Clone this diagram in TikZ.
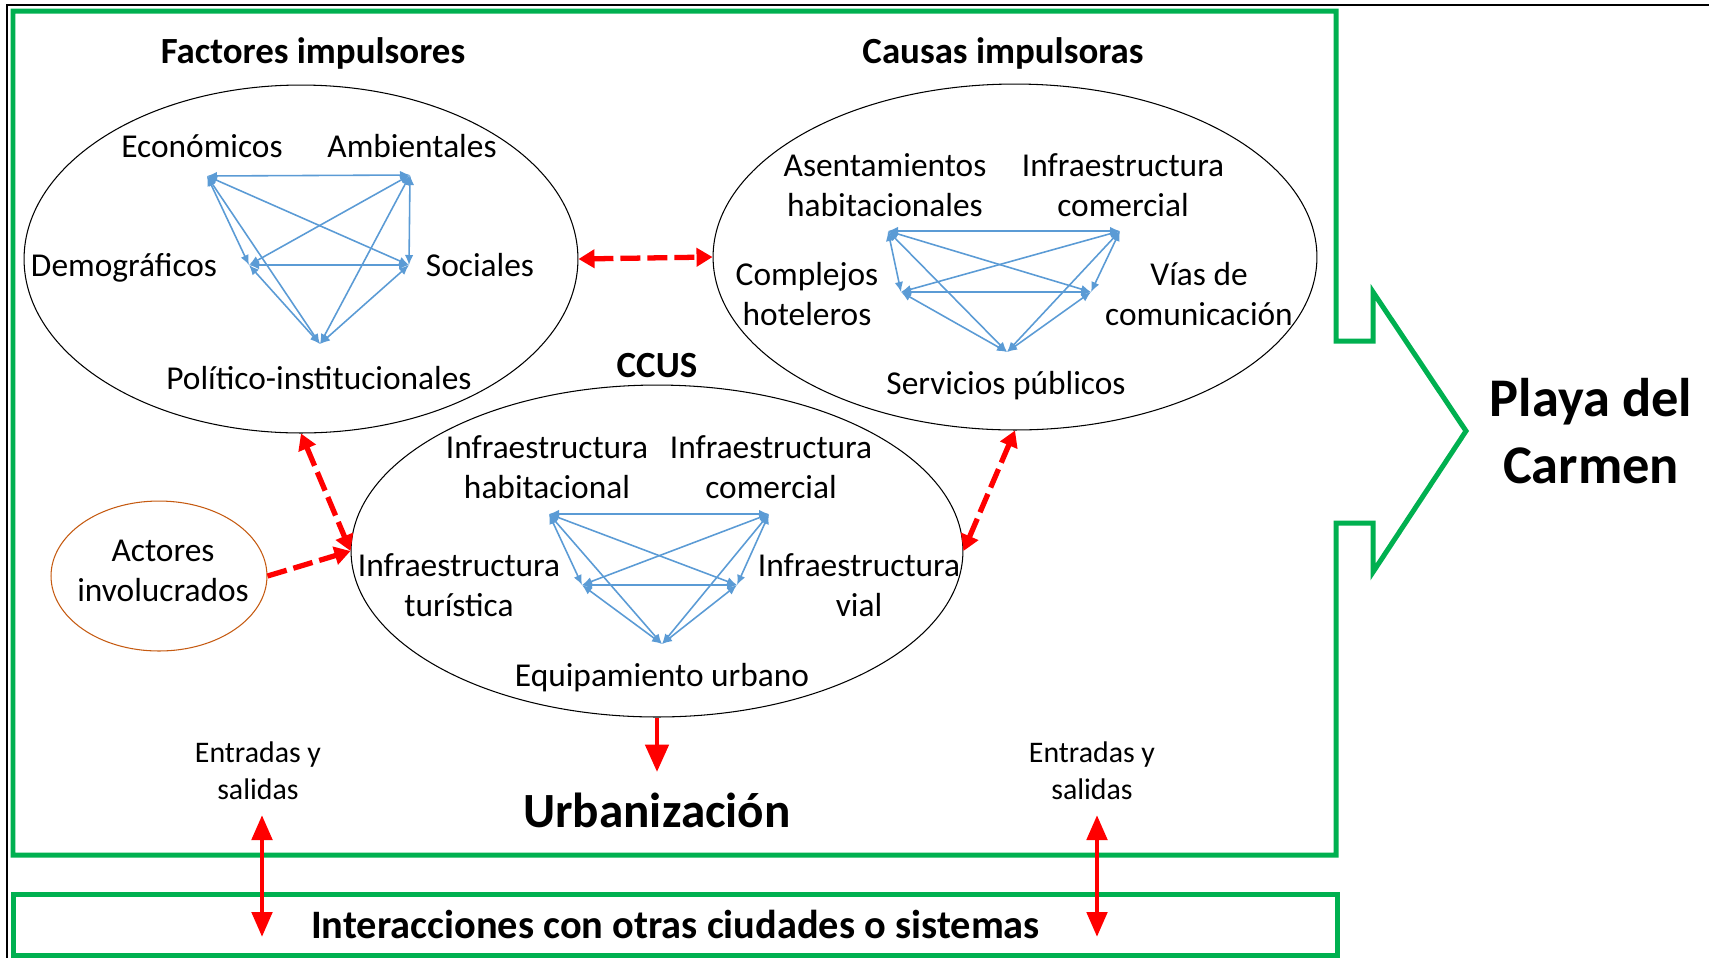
\documentclass[tikz,border=0pt]{standalone}
\usepackage{fontspec}
\setmainfont{Carlito}
\usetikzlibrary{arrows.meta}
\usetikzlibrary{calc, shapes.geometric}

\definecolor{verde}{RGB}{0,176,80}
\definecolor{azul}{RGB}{91,155,213}
\definecolor{cafe}{RGB}{197,90,17}

\tikzset{
  elipse/.style={draw, ellipse, line width=0.6pt, inner sep=0pt},
  etiq/.style={font=\fontsize{19}{23}\selectfont, align=center, inner sep=0pt},
  titulo/.style={font=\fontsize{21}{25}\selectfont\bfseries, inner sep=0pt},
  enlace/.style={azul, line width=0.9pt, arrows={Latex[length=2mm,width=1.7mm]-Latex[length=2mm,width=1.7mm]}},
  flujo/.style={red, line width=3pt, dash pattern=on 0.4cm off 0.14cm},
  salida/.style={red, line width=2.8pt}
}

\begin{document}
\begin{tikzpicture}[x=0.02cm, y=-0.02cm]
          \useasboundingbox (0,0) rectangle (1709,958);
          \draw [line width=0.04cm] (1709,5) -- (7,5) -- (7,958); % frame

          % green system boundary with the arrow to the city
          \draw [verde, line width=0.1cm] (13,11) -- (1336,11) -- (1336,341) -- (1373,341) -- (1373,292)
            -- (1466,431) -- (1373,572) -- (1373,523) -- (1336,523) -- (1336,855) -- (13,855) -- cycle;
          \node [draw=verde, line width=0.1cm, minimum width=26.5cm, minimum height=1.22cm,
            font=\fontsize{23}{27}\selectfont\bfseries] (inter) at (675.5,924.5) {Interacciones con otras ciudades o sistemas};

          \node [font=\fontsize{31}{38}\selectfont\bfseries, align=center] (playa) at (1591,431) {Playa del\\Carmen};

          % the four ellipses
          \node [elipse, minimum width=11.08cm, minimum height=6.96cm] (fac) at (301,259) {};
          \node [elipse, minimum width=12.08cm, minimum height=6.92cm] (cau) at (1015,257) {};
          \node [elipse, minimum width=12.24cm, minimum height=6.64cm] (ccus) at (657,551) {};
          \node [elipse, draw=cafe, minimum width=4.32cm, minimum height=3cm] (act) at (159,576) {};

          \node [titulo] (tfac) at (313,53) {Factores impulsores};
          \node [titulo] (tcau) at (1003,53) {Causas impulsoras};
          \node [titulo] (tccus) at (657,366) {CCUS};
          \node [font=\fontsize{28}{33}\selectfont\bfseries] (urb) at (657,810) {Urbanización};

          % labels
          \node [etiq] (leco) at (202,146) {Económicos};
          \node [etiq] (lamb) at (412,146) {Ambientales};
          \node [etiq] (ldem) at (124,268) {Demográficos};
          \node [etiq] (lsoc) at (480,265) {Sociales};
          \node [etiq] (lpol) at (319,378) {Político-institucionales};

          \node [etiq] (lase) at (885,185) {Asentamientos\\habitacionales};
          \node [etiq] (licom) at (1123,185) {Infraestructura\\comercial};
          \node [etiq] (lhot) at (807,294) {Complejos\\hoteleros};
          \node [etiq] (lvia) at (1199,294) {Vías de\\comunicación};
          \node [etiq] (lser) at (1006,386) {Servicios públicos};

          \node [etiq] (lhab) at (547,467) {Infraestructura\\habitacional};
          \node [etiq] (lcom) at (771,467) {Infraestructura\\comercial};
          \node [etiq] (ltur) at (459,585) {Infraestructura\\turística};
          \node [etiq] (lvial) at (859,585) {Infraestructura\\vial};
          \node [etiq] (lequ) at (662,678) {Equipamiento urbano};

          \node [etiq] (lact) at (163,571) {Actores\\involucrados};
          \node [etiq, font=\fontsize{17}{21}\selectfont] (ent1) at (258,771) {Entradas y\\salidas};
          \node [etiq, font=\fontsize{17}{21}\selectfont] (ent2) at (1092,771) {Entradas y\\salidas};

          % graph points
          \coordinate (fE) at (207,176); \coordinate (fA) at (410,175);
          \coordinate (fD) at (249,265); \coordinate (fS) at (409,265);
          \coordinate (fP) at (320,344);
          \coordinate (cA) at (888,231); \coordinate (cI) at (1120,231);
          \coordinate (cC) at (901,292); \coordinate (cV) at (1091,292);
          \coordinate (cS) at (1007,352);
          \coordinate (uH) at (549,514); \coordinate (uC) at (769,514);
          \coordinate (uT) at (582,585); \coordinate (uV) at (737,585);
          \coordinate (uE) at (662,644);

          \draw [enlace] (fE) -- (fA); \draw [enlace] (fE) -- (fD);
          \draw [enlace] (fE) -- (fS); \draw [enlace] (fE) -- (fP);
          \draw [enlace] (fA) -- (fD); \draw [enlace] (fA) -- (fS);
          \draw [enlace] (fA) -- (fP); \draw [enlace] (fD) -- (fS);
          \draw [enlace] (fD) -- (fP); \draw [enlace] (fS) -- (fP);

          \draw [enlace] (cA) -- (cI); \draw [enlace] (cA) -- (cC);
          \draw [enlace] (cA) -- (cV); \draw [enlace] (cA) -- (cS);
          \draw [enlace] (cI) -- (cC); \draw [enlace] (cI) -- (cV);
          \draw [enlace] (cI) -- (cS); \draw [enlace] (cC) -- (cV);
          \draw [enlace] (cC) -- (cS); \draw [enlace] (cV) -- (cS);

          \draw [enlace] (uH) -- (uC); \draw [enlace] (uH) -- (uT);
          \draw [enlace] (uH) -- (uV); \draw [enlace] (uH) -- (uE);
          \draw [enlace] (uC) -- (uT); \draw [enlace] (uC) -- (uV);
          \draw [enlace] (uC) -- (uE); \draw [enlace] (uT) -- (uV);
          \draw [enlace] (uT) -- (uE); \draw [enlace] (uV) -- (uE);

          % red links between the ellipses
          \draw [flujo, arrows={Triangle[length=0.32cm,width=0.36cm]-Triangle[length=0.32cm,width=0.36cm]}] (fac.east) -- (cau.west);
          \draw [flujo, arrows={Triangle[length=0.32cm,width=0.36cm]-Triangle[length=0.32cm,width=0.36cm]}] (fac.south) -- (ccus.west);
          \draw [flujo, arrows={Triangle[length=0.32cm,width=0.36cm]-Triangle[length=0.32cm,width=0.36cm]}] (cau.south) -- (ccus.east);
          \draw [flujo, arrows=-{Triangle[length=0.32cm,width=0.36cm]}] (act.east) -- (ccus.west);

          \coordinate (urbtop) at (657,772);
          \draw [salida, arrows=-{Triangle[length=0.55cm,width=0.46cm]}] (ccus.south) -- (urbtop);

          \coordinate (es1a) at (262,815); \coordinate (es1b) at (262,937);
          \coordinate (es2a) at (1097,815); \coordinate (es2b) at (1097,937);
          \draw [salida, arrows={Triangle[length=0.5cm,width=0.4cm]-Triangle[length=0.5cm,width=0.4cm]}] (es1a) -- (es1b);
          \draw [salida, arrows={Triangle[length=0.5cm,width=0.4cm]-Triangle[length=0.5cm,width=0.4cm]}] (es2a) -- (es2b);
\end{tikzpicture}
\end{document}
